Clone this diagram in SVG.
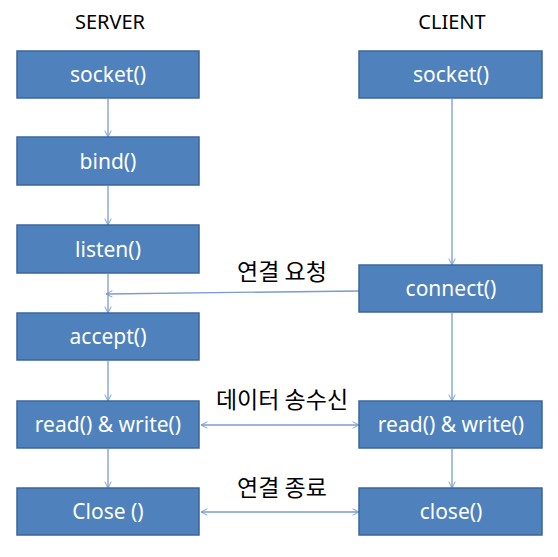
<svg xmlns="http://www.w3.org/2000/svg" width="558" height="557" viewBox="0 0 558 557">
<defs>
<marker id="ah" viewBox="0 0 10 10" refX="9" refY="5" markerWidth="8" markerHeight="8" markerUnits="userSpaceOnUse" orient="auto-start-reverse">
<path d="M1,1 L9,5 L1,9" fill="none" stroke="#7a9ccf" stroke-width="1.2"/>
</marker>
<style>
.box{fill:#4f81bd;stroke:#3a659a;stroke-width:1.5}
.bt{fill:#fff;font-family:"Noto Sans","Noto Sans CJK KR",sans-serif;font-size:21px;text-anchor:middle}
.hd{fill:#000;font-family:"Noto Sans","Noto Sans CJK KR",sans-serif;font-size:20px;text-anchor:middle}
.lb{fill:#000;font-family:"Noto Sans CJK KR",sans-serif;font-size:23px;text-anchor:middle}
.cn{stroke:#7a9ccf;stroke-width:1.3;fill:none}
</style>
</defs>
<rect width="558" height="557" fill="#fff"/>
<text class="hd" x="110" y="29">SERVER</text>
<text class="hd" x="452" y="29">CLIENT</text>
<g id="connectors">
<line class="cn" x1="108" y1="99" x2="108" y2="137" marker-end="url(#ah)"/>
<line class="cn" x1="108" y1="186" x2="108" y2="225" marker-end="url(#ah)"/>
<line class="cn" x1="108" y1="274" x2="108" y2="313" marker-end="url(#ah)"/>
<line class="cn" x1="108" y1="361" x2="108" y2="401" marker-end="url(#ah)"/>
<line class="cn" x1="108" y1="449" x2="108" y2="488" marker-end="url(#ah)"/>
<line class="cn" x1="452" y1="99" x2="452" y2="265" marker-end="url(#ah)"/>
<line class="cn" x1="452" y1="313" x2="452" y2="401" marker-end="url(#ah)"/>
<line class="cn" x1="452" y1="449" x2="452" y2="488" marker-end="url(#ah)"/>
<line class="cn" x1="359" y1="291" x2="106" y2="294" marker-end="url(#ah)"/>
<line class="cn" x1="201" y1="425" x2="359" y2="425" marker-start="url(#ah)" marker-end="url(#ah)"/>
<line class="cn" x1="201" y1="512" x2="359" y2="512" marker-start="url(#ah)" marker-end="url(#ah)"/>
</g>
<text class="lb" x="282" y="280">연결 요청</text>
<text class="lb" x="282" y="408">데이터 송수신</text>
<text class="lb" x="282" y="496">연결 종료</text>
<g id="s_socket"><rect class="box" x="17" y="51" width="182" height="47"/><text class="bt" x="108" y="82">socket()</text></g>
<g id="s_bind"><rect class="box" x="17" y="137" width="182" height="48"/><text class="bt" x="108" y="169">bind()</text></g>
<g id="s_listen"><rect class="box" x="17" y="225" width="182" height="48"/><text class="bt" x="108" y="257">listen()</text></g>
<g id="s_accept"><rect class="box" x="17" y="313" width="182" height="47"/><text class="bt" x="108" y="344">accept()</text></g>
<g id="s_rw"><rect class="box" x="17" y="401" width="182" height="47"/><text class="bt" x="108" y="432">read() &amp; write()</text></g>
<g id="s_close"><rect class="box" x="17" y="488" width="182" height="47"/><text class="bt" x="108" y="519">Close ()</text></g>
<g id="c_socket"><rect class="box" x="359" y="51" width="183" height="47"/><text class="bt" x="451" y="82">socket()</text></g>
<g id="c_connect"><rect class="box" x="359" y="265" width="183" height="47"/><text class="bt" x="451" y="296">connect()</text></g>
<g id="c_rw"><rect class="box" x="359" y="401" width="183" height="47"/><text class="bt" x="451" y="432">read() &amp; write()</text></g>
<g id="c_close"><rect class="box" x="359" y="488" width="183" height="47"/><text class="bt" x="451" y="519">close()</text></g>
</svg>
